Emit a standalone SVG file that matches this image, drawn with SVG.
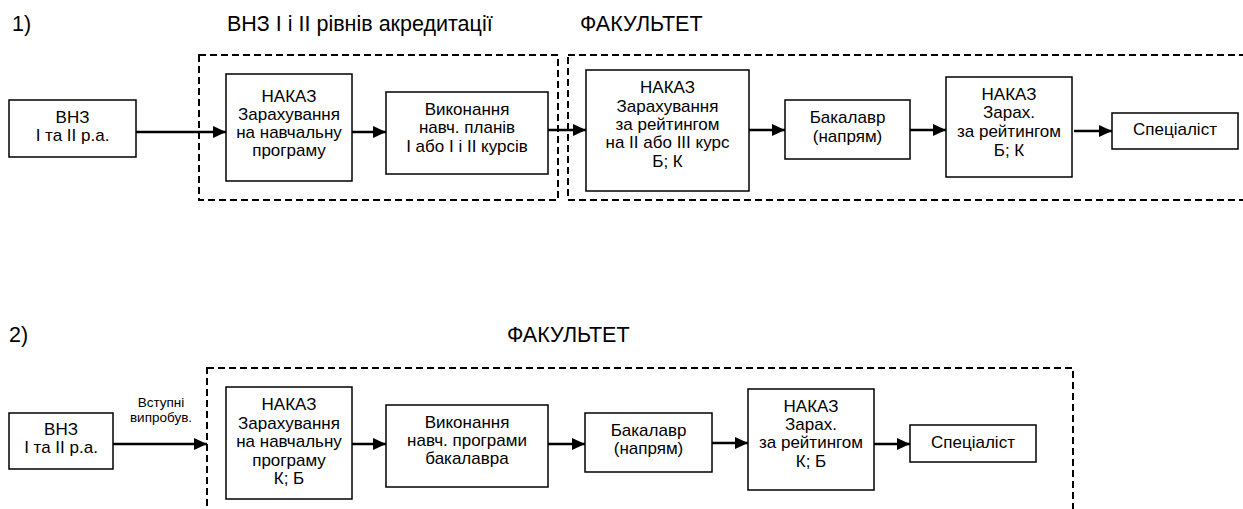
<svg xmlns="http://www.w3.org/2000/svg" width="1243" height="509" viewBox="0 0 1243 509">
<defs>
<style>
text{font-family:"Liberation Sans",Arial,sans-serif;fill:#000}
.t{font-size:17px;text-anchor:middle}
.h{font-size:21.5px}
.s{font-size:13.5px;text-anchor:middle}
.box{fill:#fff;stroke:#000;stroke-width:1.5}
.dash{fill:none;stroke:#000;stroke-width:2;stroke-dasharray:7 4}
.c{fill:none;stroke:#000;stroke-width:2.5}
</style>
<marker id="ah" markerUnits="userSpaceOnUse" markerWidth="14" markerHeight="12" refX="13" refY="6" orient="auto">
<path d="M0,0 L13,6 L0,12 Z" fill="#000"/>
</marker>
</defs>
<rect width="1243" height="509" fill="#fff"/>

<g id="titles">
<text class="h" x="12" y="31">1)</text>
<text class="h" x="227" y="31">ВНЗ І і ІІ рівнів акредитації</text>
<text class="h" x="580" y="31">ФАКУЛЬТЕТ</text>
<text class="h" x="9" y="342">2)</text>
<text class="h" x="507" y="342">ФАКУЛЬТЕТ</text>
</g>

<g id="groups">
<rect class="dash" x="199" y="55" width="359" height="145"/>
<rect class="dash" x="568" y="55" width="690" height="145"/>
<rect class="dash" x="207" y="368" width="866" height="160"/>
</g>

<g id="connectors">
<line class="c" x1="136" y1="132" x2="226" y2="132" marker-end="url(#ah)"/>
<line class="c" x1="352" y1="132" x2="386" y2="132" marker-end="url(#ah)"/>
<line class="c" x1="548" y1="130" x2="586" y2="130" marker-end="url(#ah)"/>
<line class="c" x1="749" y1="130" x2="785" y2="130" marker-end="url(#ah)"/>
<line class="c" x1="910" y1="130" x2="946" y2="130" marker-end="url(#ah)"/>
<line class="c" x1="1074" y1="131" x2="1112" y2="131" marker-end="url(#ah)"/>

<line class="c" x1="113" y1="444" x2="207" y2="444" marker-end="url(#ah)"/>
<line class="c" x1="352" y1="444" x2="386" y2="444" marker-end="url(#ah)"/>
<line class="c" x1="548" y1="444" x2="585" y2="444" marker-end="url(#ah)"/>
<line class="c" x1="712" y1="443" x2="748" y2="443" marker-end="url(#ah)"/>
<line class="c" x1="874" y1="444" x2="910" y2="444" marker-end="url(#ah)"/>
<text class="s" x="161" y="407">Вступні</text>
<text class="s" x="161" y="422">випробув.</text>
</g>

<g id="n1_vnz">
<rect class="box" x="9" y="100" width="127" height="57"/>
<text class="t" x="72.5" y="123">ВНЗ</text>
<text class="t" x="72.5" y="141">І та ІІ р.а.</text>
</g>
<g id="n1_nakaz1">
<rect class="box" x="226" y="74" width="126" height="107"/>
<text class="t" x="289" y="102">НАКАЗ</text>
<text class="t" x="289" y="120">Зарахування</text>
<text class="t" x="289" y="138">на навчальну</text>
<text class="t" x="289" y="156">програму</text>
</g>
<g id="n1_vykon">
<rect class="box" x="386" y="92" width="162" height="82"/>
<text class="t" x="467" y="115">Виконання</text>
<text class="t" x="467" y="133">навч. планів</text>
<text class="t" x="467" y="152">І або І і ІІ курсів</text>
</g>
<g id="n1_nakaz2">
<rect class="box" x="586" y="70" width="163" height="121"/>
<text class="t" x="667.5" y="93">НАКАЗ</text>
<text class="t" x="667.5" y="112">Зарахування</text>
<text class="t" x="667.5" y="130">за рейтингом</text>
<text class="t" x="667.5" y="148">на ІІ або ІІІ курс</text>
<text class="t" x="667.5" y="167">Б; К</text>
</g>
<g id="n1_bak">
<rect class="box" x="785" y="100" width="125" height="59"/>
<text class="t" x="847.5" y="123">Бакалавр</text>
<text class="t" x="847.5" y="142">(напрям)</text>
</g>
<g id="n1_nakaz3">
<rect class="box" x="946" y="77" width="126" height="100"/>
<text class="t" x="1009" y="100">НАКАЗ</text>
<text class="t" x="1009" y="118">Зарах.</text>
<text class="t" x="1009" y="137">за рейтингом</text>
<text class="t" x="1009" y="156">Б; К</text>
</g>
<g id="n1_spec">
<rect class="box" x="1112" y="113" width="126" height="36"/>
<text class="t" x="1175" y="135">Спеціаліст</text>
</g>

<g id="n2_vnz">
<rect class="box" x="9" y="413" width="104" height="56"/>
<text class="t" x="61" y="435">ВНЗ</text>
<text class="t" x="61" y="453">І та ІІ р.а.</text>
</g>
<g id="n2_nakaz1">
<rect class="box" x="226" y="387" width="126" height="112"/>
<text class="t" x="289" y="410">НАКАЗ</text>
<text class="t" x="289" y="429">Зарахування</text>
<text class="t" x="289" y="447">на навчальну</text>
<text class="t" x="289" y="466">програму</text>
<text class="t" x="289" y="484">К; Б</text>
</g>
<g id="n2_vykon">
<rect class="box" x="386" y="405" width="162" height="82"/>
<text class="t" x="467" y="428">Виконання</text>
<text class="t" x="467" y="446">навч. програми</text>
<text class="t" x="467" y="464">бакалавра</text>
</g>
<g id="n2_bak">
<rect class="box" x="585" y="413" width="127" height="59"/>
<text class="t" x="648.5" y="436">Бакалавр</text>
<text class="t" x="648.5" y="454">(напрям)</text>
</g>
<g id="n2_nakaz2">
<rect class="box" x="748" y="389" width="126" height="101"/>
<text class="t" x="811" y="412">НАКАЗ</text>
<text class="t" x="811" y="430">Зарах.</text>
<text class="t" x="811" y="448">за рейтингом</text>
<text class="t" x="811" y="467">К; Б</text>
</g>
<g id="n2_spec">
<rect class="box" x="910" y="425" width="126" height="37"/>
<text class="t" x="973" y="448">Спеціаліст</text>
</g>
</svg>
